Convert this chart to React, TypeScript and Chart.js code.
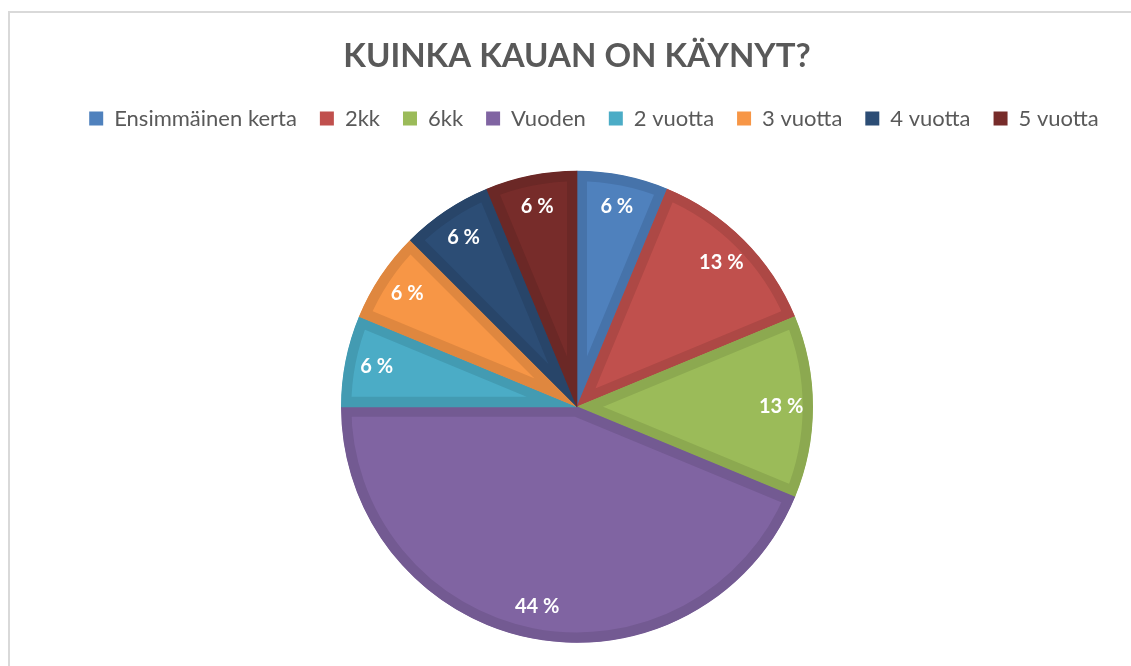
import React, { useEffect, useRef } from "react";
import { Chart, registerables } from "chart.js";

Chart.register(...registerables);

const categories = ["Ensimmäinen kerta", "2kk", "6kk", "Vuoden", "2 vuotta", "3 vuotta", "4 vuotta", "5 vuotta"];
const shares = [6.25, 12.5, 12.5, 43.75, 6.25, 6.25, 6.25, 6.25];
const fillColors = ["#4F81BD", "#C0504D", "#9BBB59", "#8064A2", "#4BACC6", "#F79646", "#2C4D75", "#772C2A"];
const edgeColors = ["#4673AA", "#AD4845", "#8CA950", "#735A92", "#439BB2", "#DF873F", "#284569", "#6B2826"];
const titleText = "KUINKA KAUAN ON KÄYNYT?";

const FONT = "Lato, 'Open Sans', sans-serif";

const labelPlugin = {
  id: "sliceLabels",
  afterDatasetsDraw(chart: any) {
    const ctx = chart.ctx;
    const meta = chart.getDatasetMeta(0);
    const data = chart.data.datasets[0].data as number[];
    const total = data.reduce((a: number, b: number) => a + b, 0);
    ctx.save();
    ctx.font = `bold 20px ${FONT}`;
    ctx.fillStyle = "#FFFFFF";
    ctx.textAlign = "center";
    ctx.textBaseline = "middle";
    meta.data.forEach((arc: any, i: number) => {
      const p = arc.getProps(["x", "y", "startAngle", "endAngle", "outerRadius"], true);
      const mid = (p.startAngle + p.endAngle) / 2;
      const r = p.outerRadius * 0.865;
      const x = p.x + Math.cos(mid) * r;
      const y = p.y + Math.sin(mid) * r;
      const pct = Math.round((data[i] / total) * 100);
      ctx.fillText(`${pct} %`, x, y);
    });
    ctx.restore();
  },
};

const legendShift = {
  id: "legendShift",
  afterLayout(chart: any) {
    if (chart.legend) {
      chart.legend.left += 17;
      chart.legend.right += 17;
    }
  },
};

export default function App() {
  const ref = useRef<HTMLCanvasElement | null>(null);
  useEffect(() => {
    if (!ref.current) return;
    const chart = new Chart(ref.current, {
      type: "pie",
      data: {
        labels: categories,
        datasets: [
          {
            data: shares,
            backgroundColor: fillColors,
            borderColor: edgeColors,
            borderWidth: 10,
            borderAlign: "inner",
            borderJoinStyle: "miter",
            radius: 236,
          } as any,
        ],
      },
      options: {
        animation: false,
        responsive: false,
        layout: { padding: { left: 23, right: 0, top: 0, bottom: 0 } },
        plugins: {
          title: {
            display: true,
            text: titleText,
            color: "#595959",
            font: { family: FONT, size: 33, weight: "bold" },
            padding: { top: 37, bottom: 8 },
          },
          legend: {
            display: true,
            position: "top",
            labels: {
              color: "#595959",
              font: { family: FONT, size: 22 },
              boxWidth: 14,
              boxHeight: 14,
              padding: 23,
              generateLabels: () =>
                categories.map((c, i) => ({
                  text: c,
                  fillStyle: fillColors[i],
                  strokeStyle: fillColors[i],
                  lineWidth: 0,
                  hidden: false,
                  index: i,
                  fontColor: "#595959",
                })),
            },
          },
          tooltip: { enabled: false },
        },
      },
      plugins: [labelPlugin, legendShift],
    });
    return () => chart.destroy();
  }, []);

  return (
    <div style={{ position: "fixed", left: 0, top: 0, width: 1131, height: 666, overflow: "hidden", background: "#fff" }}>
      <div
        style={{
          position: "absolute",
          left: 8,
          top: 11,
          width: 1140,
          height: 680,
          borderTop: "2px solid #D9D9D9",
          borderLeft: "2px solid #D9D9D9",
        }}
      />
      <canvas ref={ref} width={1131} height={674} style={{ position: "absolute", left: 0, top: 0 }} />
    </div>
  );
}
